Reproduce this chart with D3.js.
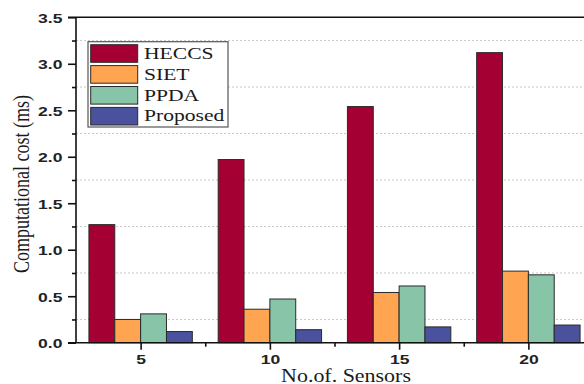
<!DOCTYPE html>
<html>
<head>
<meta charset="utf-8">
<script src="https://cdn.jsdelivr.net/npm/d3@7"></script>
<style>
  html, body { margin: 0; padding: 0; background: #fff; }
  svg { display: block; }
</style>
</head>
<body>
<svg id="chart" width="584" height="384"></svg>
<script>
// Sensor counts on the x axis
const sensors = [5, 10, 15, 20];
// Computational cost (ms) for each scheme
const heccs    = [1.27, 1.97, 2.54, 3.12];
const siet     = [0.25, 0.36, 0.54, 0.77];
const ppda     = [0.31, 0.47, 0.61, 0.73];
const proposed = [0.12, 0.14, 0.17, 0.19];
const seriesNames = ["HECCS", "SIET", "PPDA", "Proposed"];
const seriesColors = ["#A50034", "#FFA552", "#88C4A8", "#4A529E"];
const yTicks = [0, 0.5, 1.0, 1.5, 2.0, 2.5, 3.0, 3.5];
const yMinorTicks = [0.25, 0.75, 1.25, 1.75, 2.25, 2.75, 3.25];
const xMinorTicks = [7.5, 12.5, 17.5];

const seriesValues = [heccs, siet, ppda, proposed];
const SX = 1.27;      // glyph widening for serif text
const SX_TICK = 1.35; // glyph widening for tick numbers

const svg = d3.select("#chart");
const plotLeft = 76, plotTop = 17.3, plotBottom = 342.7;

const x = d3.scaleLinear().domain([2.5, 22.5]).range([plotLeft, 593]);
const y = d3.scaleLinear().domain([0, 3.5]).range([plotBottom, plotTop]);

// dotted grid at the minor positions
svg.append("g").selectAll("line").data(yMinorTicks).join("line")
  .attr("x1", plotLeft).attr("x2", 584)
  .attr("y1", d => y(d)).attr("y2", d => y(d))
  .attr("stroke", "#c8c8c8").attr("stroke-width", 1)
  .attr("stroke-dasharray", "2,2");

// bars: each series is one x-unit wide, grouped around the category
const bw = x(1) - x(0);
seriesValues.forEach((vals, si) => {
  svg.append("g").selectAll("rect").data(vals).join("rect")
    .attr("x", (d, i) => x(sensors[i] + si - 2))
    .attr("y", d => y(d))
    .attr("width", bw)
    .attr("height", d => y(0) - y(d))
    .attr("fill", seriesColors[si])
    .attr("stroke", "#2a2a2a").attr("stroke-width", 1);
});

// frame lines (left axis, bottom axis, top border)
const frame = svg.append("g").attr("stroke", "#111").attr("stroke-width", 1.6);
frame.append("line").attr("x1", 68).attr("x2", 584).attr("y1", plotTop).attr("y2", plotTop);
frame.append("line").attr("x1", 68).attr("x2", 584).attr("y1", plotBottom).attr("y2", plotBottom);
frame.append("line").attr("x1", plotLeft).attr("x2", plotLeft).attr("y1", plotTop).attr("y2", plotBottom);

// y axis
const yAxis = svg.append("g").attr("transform", `translate(${plotLeft},0)`)
  .call(d3.axisLeft(y).tickValues(yTicks).tickSize(8).tickFormat(d3.format(".1f")));
const yMinor = svg.append("g").attr("transform", `translate(${plotLeft},0)`)
  .call(d3.axisLeft(y).tickValues(yMinorTicks).tickSize(4).tickFormat(""));

// x axis
const xAxis = svg.append("g").attr("transform", `translate(0,${plotBottom})`)
  .call(d3.axisBottom(x).tickValues(sensors).tickSize(7).tickFormat(d3.format("d")));
const xMinor = svg.append("g").attr("transform", `translate(0,${plotBottom})`)
  .call(d3.axisBottom(x).tickValues(xMinorTicks).tickSize(4).tickFormat(""));

[yAxis, yMinor, xAxis, xMinor].forEach(g => {
  g.select(".domain").remove();
  g.selectAll(".tick line").attr("stroke", "#111").attr("stroke-width", 1.6);
});

yAxis.selectAll(".tick text")
  .attr("x", 0).attr("dy", "0.36em")
  .attr("transform", `translate(-13.5,0.5) scale(${SX_TICK},1)`)
  .attr("font-family", "'Liberation Sans', Arial, sans-serif")
  .attr("font-weight", "bold")
  .attr("font-size", 13).attr("fill", "#222");

xAxis.selectAll(".tick text")
  .attr("y", 0).attr("dy", 0)
  .attr("transform", `translate(0,21.5) scale(${SX_TICK},1)`)
  .attr("font-family", "'Liberation Sans', Arial, sans-serif")
  .attr("font-weight", "bold")
  .attr("font-size", 13).attr("fill", "#222");

// axis titles
svg.append("text")
  .attr("transform", `translate(29,184) scale(${SX},1) rotate(-90)`)
  .attr("text-anchor", "middle")
  .attr("font-family", "'Liberation Serif', 'Times New Roman', serif")
  .attr("font-size", 18).attr("fill", "#1a1a1a")
  .text("Computational cost (ms)");

svg.append("text")
  .attr("transform", `translate(346,381.5) scale(1.22,1)`)
  .attr("text-anchor", "middle")
  .attr("font-family", "'Liberation Serif', 'Times New Roman', serif")
  .attr("font-size", 18).attr("fill", "#1a1a1a")
  .text("No.of. Sensors");

// legend
const legend = svg.append("g");
legend.append("rect")
  .attr("x", 88).attr("y", 41.7).attr("width", 140).attr("height", 85.3)
  .attr("fill", "#fff").attr("stroke", "#555").attr("stroke-width", 1.2);
seriesNames.forEach((name, i) => {
  const yy = 44.7 + i * 20.9;
  legend.append("rect")
    .attr("x", 90.7).attr("y", yy).attr("width", 47).attr("height", 17.6)
    .attr("fill", seriesColors[i]).attr("stroke", "#2a2a2a").attr("stroke-width", 1);
  legend.append("text")
    .attr("transform", `translate(144,${yy + 14}) scale(${SX},1)`)
    .attr("font-family", "'Liberation Serif', 'Times New Roman', serif")
    .attr("font-size", 17).attr("fill", "#1a1a1a")
    .text(name);
});
</script>
</body>
</html>
